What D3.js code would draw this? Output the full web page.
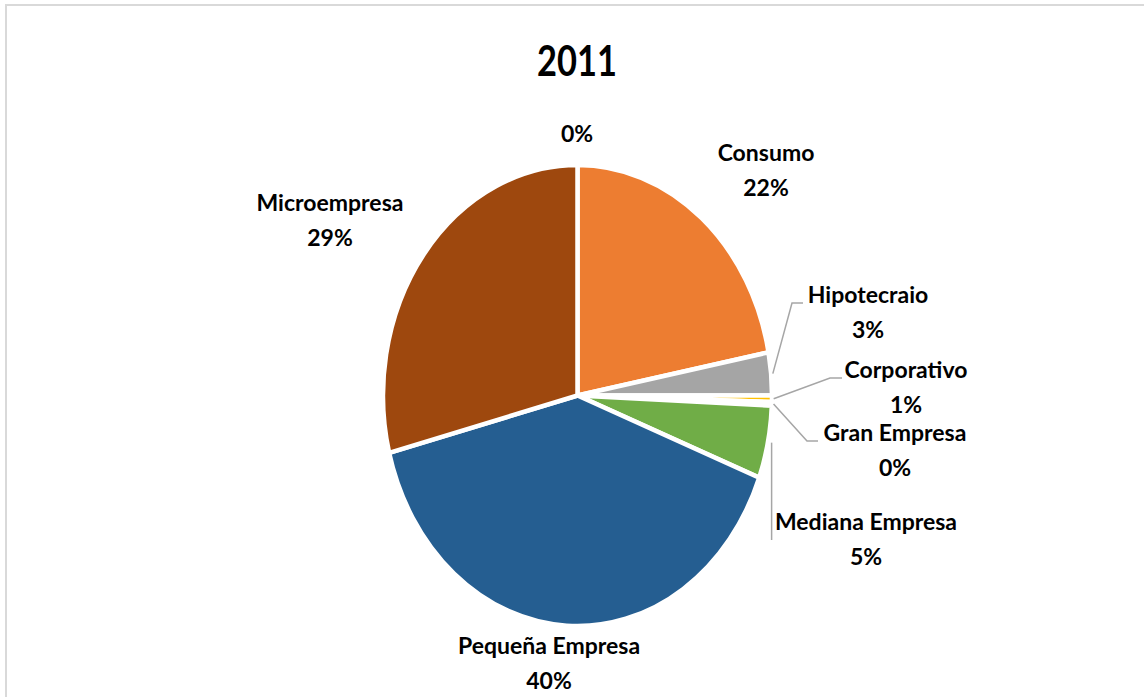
<!DOCTYPE html>
<html>
<head>
<meta charset="utf-8">
<script src="https://cdn.jsdelivr.net/npm/d3@7"></script>
<style>
  html, body { margin: 0; padding: 0; background: #ffffff; }
  svg { display: block; }
  text { font-family: Lato, "Open Sans", sans-serif; font-weight: 700; fill: #000; }
</style>
</head>
<body>
<svg id="chart" width="1144" height="697"></svg>
<script>
// ---- data ----
const title = "2011";
const categories = ["", "Consumo", "Hipotecraio", "Corporativo", "Gran Empresa", "Mediana Empresa", "Pequeña Empresa", "Microempresa"];
const values = [0, 22.0, 3.0, 0.45, 0.25, 5.1, 40.2, 29.0];
const pctLabels = ["0%", "22%", "3%", "1%", "0%", "5%", "40%", "29%"];
const colors = ["#4472C4", "#ED7D31", "#A5A5A5", "#FFC000", "#5B9BD5", "#70AD47", "#255E91", "#9E480E"];

// ---- layout ----
const W = 1144, H = 697;
const cx = 577.5, cy = 395.5;
const R = 230.5;           // vertical radius
const sx = 194.5 / 230.5;  // horizontal squeeze of the original picture
// label placements (screen px): centre x, name baseline y, optional leader elbow & end
const labelLayout = [
  {x: 577, y: 142, pctOnly: true},
  {x: 766, y: 161},
  {x: 868, y: 303, elbow: [792, 303], end: [803, 303]},
  {x: 906, y: 378, elbow: [830, 378], end: [842, 378]},
  {x: 895, y: 441, elbow: [807, 441], end: [818, 441]},
  {x: 866, y: 530, vertical: 540},
  {x: 549, y: 654},
  {x: 330, y: 211}
];
const lineGap = 35;

const svg = d3.select("#chart");

// frame
svg.append("path")
  .attr("d", `M6,${H} L6,5 L${W},5`)
  .attr("fill", "none")
  .attr("stroke", "#d9d9d9")
  .attr("stroke-width", 2);

// title
svg.append("text")
  .attr("transform", `translate(577,76) scale(0.82,1)`)
  .attr("text-anchor", "middle")
  .style("font-size", "42px")
  .text(title);

// pie
const pie = d3.pie().sort(null).value(d => d).startAngle(0).endAngle(2 * Math.PI);
const arcs = pie(values);
const arc = d3.arc().innerRadius(0).outerRadius(R);

const g = svg.append("g").attr("transform", `translate(${cx},${cy}) scale(${sx},1)`);
g.selectAll("path.slice")
  .data(arcs)
  .join("path")
  .attr("class", "slice")
  .attr("d", arc)
  .attr("fill", (d, i) => colors[i])
  .attr("stroke", "#ffffff")
  .attr("stroke-width", 4.5)
  .attr("vector-effect", "non-scaling-stroke");

// helper: screen point on the ellipse edge
function edgePoint(a, r) {
  return [cx + sx * r * Math.sin(a), cy - r * Math.cos(a)];
}

// leader lines
const lines = svg.append("g");
arcs.forEach((d, i) => {
  const L = labelLayout[i];
  if (!L.elbow && !L.vertical) return;
  const mid = (d.startAngle + d.endAngle) / 2;
  const p0 = edgePoint(mid, R + 2);
  let pts;
  if (L.vertical) {
    pts = [[p0[0] + 2, p0[1]], [p0[0] + 2, L.vertical]];
  } else {
    pts = [p0, L.elbow, L.end];
  }
  lines.append("path")
    .attr("d", d3.line()(pts))
    .attr("fill", "none")
    .attr("stroke", "#A6A6A6")
    .attr("stroke-width", 1.5);
});

// labels
const labels = svg.append("g");
arcs.forEach((d, i) => {
  const L = labelLayout[i];
  const t = labels.append("text")
    .attr("text-anchor", "middle")
    .style("font-size", "23px");
  if (L.pctOnly || categories[i] === "") {
    t.attr("x", L.x).attr("y", L.y).text(pctLabels[i]);
  } else {
    t.append("tspan").attr("x", L.x).attr("y", L.y).text(categories[i]);
    t.append("tspan").attr("x", L.x).attr("y", L.y + lineGap).text(pctLabels[i]);
  }
});
</script>
</body>
</html>
